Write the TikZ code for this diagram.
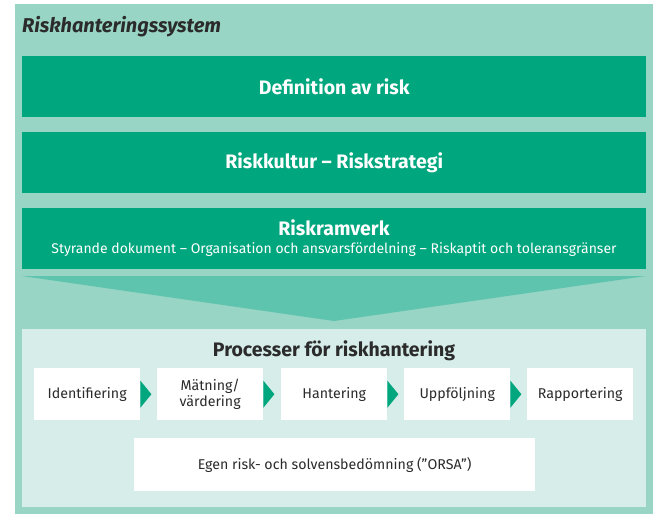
\documentclass[tikz,border=0pt]{standalone}
\usepackage{fontspec}
\setmainfont{Fira Sans}
\usetikzlibrary{calc}
\definecolor{outerg}{HTML}{98D5C4}
\definecolor{darkg}{HTML}{00A67D}
\definecolor{chevg}{HTML}{5EC4AD}
\definecolor{paleg}{HTML}{D6EDE9}
\definecolor{txt}{HTML}{2B2B2B}
\tikzset{
  x=1pt, y=-1pt,
  band/.style={fill=darkg, text=white, minimum width=624pt, minimum height=61pt, inner sep=0pt, font=\fontsize{19.5}{22}\selectfont\bfseries, align=center, anchor=north west},
  stepbox/.style={fill=white, text=txt, minimum width=106pt, minimum height=52pt, inner sep=0pt, font=\fontsize{14.2}{16}\selectfont, align=center, anchor=north west},
  tri/.style={fill=darkg}
}
\begin{document}
\begin{tikzpicture}
\useasboundingbox (0,0) rectangle (669,517);
\fill[white] (0,0) rectangle (669,517);
\fill[outerg] (15,4) rectangle (653,514);
\node[anchor=west, text=txt, font=\fontsize{20}{22}\selectfont\bfseries\itshape, inner sep=0pt] (title) at (22,27) {Riskhanteringssystem};
\node[band] (def) at (22,56) {Definition av risk};
\node[band] (kult) at (22,132) {Riskkultur – Riskstrategi};
\node[band] (ram) at (22,208) {};
\node[text=white, font=\fontsize{19.5}{22}\selectfont\bfseries, inner sep=0pt] (ramt) at (334,228) {Riskramverk};
\node[text=white, font=\fontsize{14}{16}\selectfont, inner sep=0pt] (ramsub) at (334,250) {Styrande dokument – Organisation och ansvarsfördelning – Riskaptit och toleransgränser};
\fill[chevg] (22,276) -- (646,276) -- (334,321) -- cycle;
\node[fill=paleg, minimum width=624pt, minimum height=178pt, inner sep=0pt, anchor=north west] (proc) at (22,329) {};
\node[text=txt, font=\fontsize{19.5}{22}\selectfont\bfseries, inner sep=0pt] (proct) at (334,351) {Processer för riskhantering};
\node[stepbox] (s1) at (34,368) {Identifiering};
\node[stepbox] (s2) at (157,368) {Mätning/\\värdering};
\node[stepbox] (s3) at (281,368) {Hantering};
\node[stepbox] (s4) at (404,368) {Uppföljning};
\node[stepbox] (s5) at (527,368) {Rapportering};
\foreach \a in {s1,s2,s3,s4}{
  \fill[tri] ($(\a.east)+(0,-13.5)$) -- ($(\a.east)+(11,0)$) -- ($(\a.east)+(0,13.5)$) -- cycle;
}
\node[stepbox, minimum width=401pt, minimum height=53pt] (orsa) at (134,438) {Egen risk- och solvensbedömning (”ORSA”)};
\end{tikzpicture}
\end{document}
